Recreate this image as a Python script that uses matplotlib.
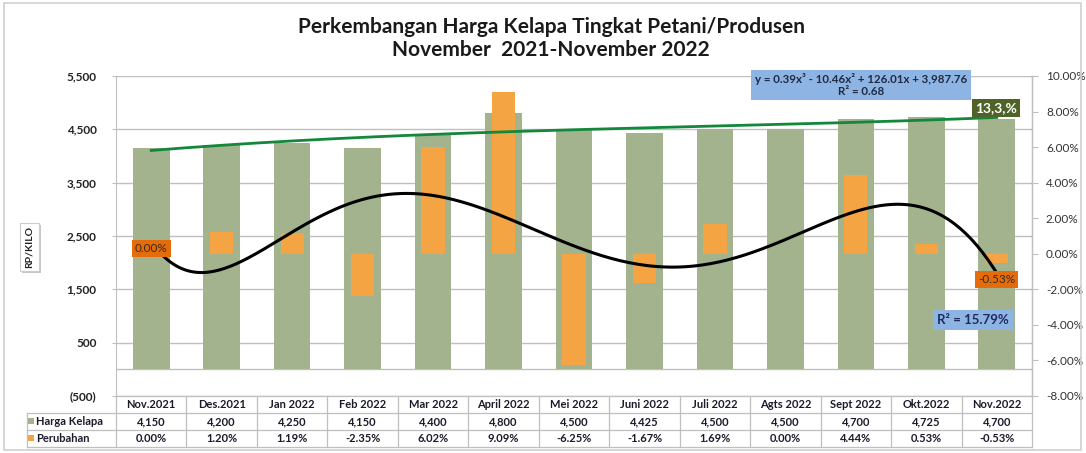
import numpy as np
import matplotlib
matplotlib.use("Agg")
import matplotlib.pyplot as plt
from matplotlib.patches import Rectangle
from matplotlib.ticker import FuncFormatter, FixedLocator
from matplotlib.transforms import Affine2D, blended_transform_factory

plt.rcParams['font.family'] = ['Lato', 'DejaVu Sans']

categories = ["Nov.2021", "Des.2021", "Jan 2022", "Feb 2022", "Mar 2022", "April 2022",
              "Mei 2022", "Juni 2022", "Juli 2022", "Agts 2022", "Sept 2022", "Okt.2022", "Nov.2022"]
harga = [4150, 4200, 4250, 4150, 4400, 4800, 4500, 4425, 4500, 4500, 4700, 4725, 4700]
perubahan = [0.00, 1.20, 1.19, -2.35, 6.02, 9.09, -6.25, -1.67, 1.69, 0.00, 4.44, 0.53, -0.53]
left_ticks = [-500, 500, 1500, 2500, 3500, 4500, 5500]
right_ticks = [-8, -6, -4, -2, 0, 2, 4, 6, 8, 10]

GREEN = "#A2B38E"
ORANGE = "#F4A442"
TREND_GREEN = "#13873A"
LABEL_ORANGE = "#E46C0A"
OLIVE = "#4F6228"
BLUE_BOX = "#8DB4E2"
GRID = "#BFBFBF"

W, H = 1086, 453
fig = plt.figure(figsize=(W / 100, H / 100), dpi=100)
tpx = Affine2D().scale(1 / W, -1 / H).translate(0, 1) + fig.transFigure

# outer frame
fig.patches.append(Rectangle((4, 3), W - 9, H - 6, transform=tpx, fill=False,
                             edgecolor="#D0D0D0", lw=1.2))

def rect(x0, y0, x1, y1):
    return [x0 / W, 1 - y1 / H, (x1 - x0) / W, (y1 - y0) / H]

ax = fig.add_axes(rect(116, 76, 1032, 396))
ax2 = ax.twinx()

x = np.arange(1, len(categories) + 1)
ax.bar(x, harga, width=0.52, color=GREEN, zorder=2)
ax.set_xlim(0.5, len(categories) + 0.5)
ax.set_ylim(-500, 5500)
ax.yaxis.set_major_locator(FixedLocator(left_ticks))
ax.yaxis.set_major_formatter(FuncFormatter(lambda v, p: f"({abs(v):,.0f})" if v < 0 else f"{v:,.0f}"))
ax.grid(axis="y", color=GRID, lw=1, zorder=0)
ax.set_axisbelow(True)
ax.axhline(0, color=GRID, lw=1, zorder=1)
ax.set_xticks([])
ax.tick_params(axis="y", labelsize=8.5, length=3, color=GRID, labelcolor="#222222")
ax.yaxis.set_tick_params(pad=11)
for t in ax.get_yticklabels():
    t.set_fontweight("bold")
for s in ["top", "bottom"]:
    ax.spines[s].set_visible(False)
ax.spines["left"].set_color(GRID)

ax2.bar(x, perubahan, width=0.33, color=ORANGE, zorder=3)
ax2.set_ylim(-8, 10)
ax2.yaxis.set_major_locator(FixedLocator(right_ticks))
ax2.yaxis.set_major_formatter(FuncFormatter(lambda v, p: f"{v:.2f}%"))
ax2.tick_params(axis="y", labelsize=8.5, length=4, color=GRID, labelcolor="#333333", pad=6)
for s in ["top", "bottom", "left"]:
    ax2.spines[s].set_visible(False)
ax2.spines["right"].set_color(GRID)

# trendlines
xs = np.linspace(1, len(categories), 300)
c3 = np.polyfit(x, harga, 3)
ax2.plot(xs, np.polyval(c3, xs), color=TREND_GREEN, lw=2, transform=ax.transData, zorder=5)
c6 = np.polyfit(x, perubahan, 6)
ax2.plot(xs, np.polyval(c6, xs), color="black", lw=2.2, zorder=6)

# annotations
ax2.text(x[0], np.polyval(c6, x[0]) - 0.35, "0.00%", ha="center", va="center", fontsize=8.5, color="#3a2a1a",
         bbox=dict(boxstyle="square,pad=0.25", fc=LABEL_ORANGE, ec="none"), zorder=7)
ax2.text(x[-1], np.polyval(c6, x[-1]) - 0.35, "-0.53%", ha="center", va="center", fontsize=8.5, color="#3a2a1a",
         bbox=dict(boxstyle="square,pad=0.25", fc=LABEL_ORANGE, ec="none"), zorder=7)
fig.text(861, 85, "y = 0.39x³ - 10.46x² + 126.01x + 3,987.76\nR² = 0.68", transform=tpx,
         ha="center", va="center", fontsize=8.3, fontweight="bold", color="#1F2A44", linespacing=1.1,
         bbox=dict(boxstyle="square,pad=0.3", fc=BLUE_BOX, ec="none"))
fig.text(996, 108, "13,3,%", transform=tpx, ha="center", va="center", fontsize=10,
         fontweight="bold", color="white", bbox=dict(boxstyle="square,pad=0.25", fc=OLIVE, ec="none"))
fig.text(973, 320, "R² = 15.79%", transform=tpx, ha="center", va="center", fontsize=9.5,
         fontweight="bold", color="#1F2A60", bbox=dict(boxstyle="square,pad=0.3", fc=BLUE_BOX, ec="none"))

# title
fig.text(551, 27, "Perkembangan Harga Kelapa Tingkat Petani/Produsen", transform=tpx,
         ha="center", va="center", fontsize=15, fontweight="bold", color="#1a1a1a")
fig.text(551, 50, "November  2021-November 2022", transform=tpx,
         ha="center", va="center", fontsize=15, fontweight="bold", color="#1a1a1a")

# y-label with shadow
fig.patches.append(Rectangle((22, 225), 19, 48, transform=tpx, fc="#A0A0A0", ec="none", alpha=0.6))
fig.patches.append(Rectangle((20, 223), 19, 48, transform=tpx, fc="white", ec="#CCCCCC", lw=0.8))
fig.text(29.5, 247, "RP/KILO", transform=tpx, rotation=90, ha="center", va="center", fontsize=7.5,
         fontweight="bold", color="#222222")

# data table
bt = blended_transform_factory(ax.transData, tpx)
rows_y = [396, 413, 430, 447]
edges = np.arange(0.5, len(categories) + 1, 1.0)
LC = "#BFBFBF"
x_left_px = 27
x_ax_left_px = 116
x_right_px = 1032
fig.add_artist(plt.Line2D([x_ax_left_px, x_right_px], [rows_y[0]] * 2, transform=tpx, color=LC, lw=0.9))
for yy in rows_y[1:]:
    fig.add_artist(plt.Line2D([x_left_px, x_right_px], [yy] * 2, transform=tpx, color=LC, lw=0.9))
for e in edges:
    fig.add_artist(plt.Line2D([e, e], [rows_y[0], rows_y[-1]], transform=bt, color=LC, lw=0.9))
fig.add_artist(plt.Line2D([x_left_px, x_left_px], [rows_y[1], rows_y[-1]], transform=tpx, color=LC, lw=0.9))

TC = "#1a1a2a"
FS = 8
for i, cat in enumerate(categories):
    fig.text(x[i], 405, cat, transform=bt, ha="center", va="center", fontsize=FS, fontweight="bold", color=TC)
    fig.text(x[i], 422, f"{harga[i]:,}", transform=bt, ha="center", va="center", fontsize=FS, fontweight="bold", color=TC)
    fig.text(x[i], 438.5, f"{perubahan[i]:.2f}%", transform=bt, ha="center", va="center", fontsize=FS, fontweight="bold", color=TC)

fig.patches.append(Rectangle((28, 418), 6, 6, transform=tpx, fc=GREEN, ec="none"))
fig.patches.append(Rectangle((28, 435), 6, 6, transform=tpx, fc=ORANGE, ec="none"))
fig.text(36, 421.5, "Harga Kelapa", transform=tpx, ha="left", va="center", fontsize=FS, fontweight="bold", color=TC)
fig.text(36, 438.5, "Perubahan", transform=tpx, ha="left", va="center", fontsize=FS, fontweight="bold", color=TC)

fig.savefig("out.png", dpi=100, facecolor="white")
